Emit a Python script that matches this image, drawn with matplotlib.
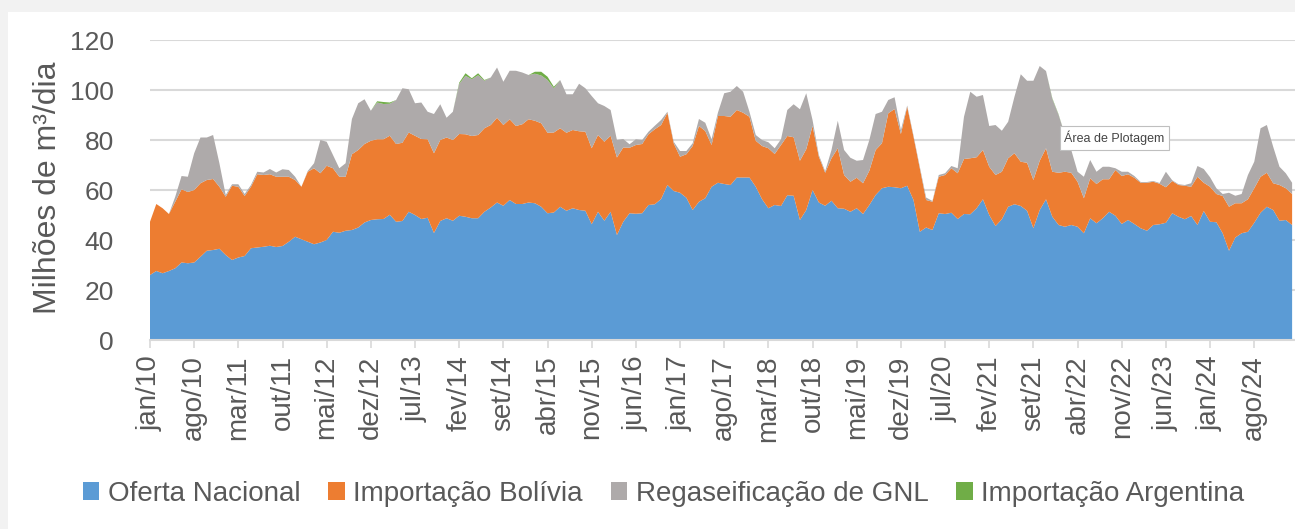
import numpy as np
import matplotlib
import matplotlib.pyplot as plt
from matplotlib.patches import Patch, Rectangle

matplotlib.use('agg')

# Monthly supply, jan/10 .. fev/25 (milhões de m3/dia)
oferta_nacional = [
    26.0, 27.6, 26.7, 27.6, 28.7, 31.0, 30.7, 31.0, 33.3, 35.7, 36.0, 36.5,
    34.0, 32.0, 33.0, 33.6, 36.7, 37.0, 37.3, 37.7, 37.2, 37.6, 39.3, 41.3,
    40.3, 39.3, 38.3, 39.0, 40.0, 43.3, 42.9, 43.7, 44.0, 45.0, 47.0, 48.0,
    48.3, 48.4, 50.1, 47.3, 47.6, 51.3, 50.0, 48.4, 48.9, 42.8, 47.6, 48.7,
    47.7, 49.7, 49.3, 48.7, 48.7, 51.3, 53.0, 55.0, 53.7, 56.0, 54.4, 54.4,
    55.0, 54.7, 53.3, 50.7, 51.0, 53.3, 51.7, 52.7, 52.0, 51.7, 46.3, 51.3,
    47.7, 51.3, 42.0, 47.3, 50.7, 50.5, 50.7, 54.0, 54.3, 56.4, 62.0, 59.6,
    58.9, 56.9, 52.0, 55.3, 56.7, 61.3, 62.9, 62.4, 62.0, 65.0, 65.0, 65.0,
    61.3, 56.3, 52.7, 54.0, 53.6, 57.9, 57.7, 48.0, 52.0, 60.0, 55.0, 53.7,
    55.7, 52.7, 52.5, 51.3, 52.7, 50.4, 54.0, 58.0, 60.7, 61.3, 61.1, 60.7,
    61.7, 56.0, 43.3, 45.0, 44.0, 50.7, 50.4, 50.9, 48.4, 50.4, 50.3, 52.7,
    56.3, 50.0, 45.6, 48.3, 53.3, 54.3, 53.6, 51.7, 44.7, 52.0, 56.3, 49.3,
    46.0, 45.3, 46.0, 45.3, 42.7, 48.7, 46.7, 48.7, 51.3, 49.7, 46.4, 48.0,
    46.4, 44.7, 43.7, 46.0, 46.3, 46.9, 50.7, 49.3, 48.3, 49.6, 46.0, 51.6,
    47.3, 47.1, 42.7, 35.7, 41.0, 42.7, 43.3, 46.9, 50.9, 53.3, 52.0, 47.7,
    48.0, 46.0,
]
importacao_bolivia = [
    21.3, 26.8, 26.0, 22.8, 26.6, 29.3, 28.5, 29.0, 29.4, 28.3, 28.4, 24.8,
    23.3, 29.7, 28.3, 24.0, 24.6, 29.3, 28.7, 28.6, 28.1, 27.7, 26.0, 22.7,
    21.0, 28.0, 30.4, 27.7, 29.7, 25.4, 22.4, 21.6, 30.3, 31.0, 31.4, 31.7,
    32.0, 31.9, 31.6, 31.1, 31.3, 31.7, 31.7, 32.0, 31.4, 31.9, 32.4, 32.3,
    32.3, 32.7, 33.0, 32.9, 33.3, 33.4, 33.0, 33.9, 32.3, 32.3, 31.2, 31.9,
    33.3, 33.0, 33.4, 32.2, 32.0, 31.4, 31.2, 31.3, 31.5, 31.6, 30.4, 30.7,
    31.6, 30.4, 31.0, 29.7, 26.2, 27.5, 27.7, 28.3, 30.0, 29.6, 28.9, 19.1,
    14.4, 17.4, 25.6, 30.3, 26.9, 16.7, 26.7, 27.2, 27.3, 27.0, 25.9, 24.3,
    18.4, 21.3, 24.0, 20.4, 24.4, 23.7, 23.4, 23.7, 24.3, 25.6, 18.3, 13.2,
    17.0, 24.0, 13.5, 12.0, 12.2, 12.3, 13.7, 18.0, 18.0, 29.4, 31.3, 21.7,
    31.6, 25.3, 25.4, 11.0, 11.3, 14.6, 15.6, 17.8, 18.3, 22.0, 22.4, 20.4,
    19.7, 19.3, 20.4, 19.0, 19.4, 20.4, 17.7, 19.2, 19.3, 19.7, 20.4, 18.0,
    20.9, 22.0, 20.9, 18.0, 14.0, 16.0, 15.7, 15.6, 13.0, 18.3, 19.2, 18.3,
    18.5, 18.2, 19.2, 17.3, 16.2, 14.2, 12.9, 12.7, 13.4, 11.7, 19.3, 11.3,
    14.0, 11.3, 14.9, 17.6, 13.7, 12.0, 13.0, 13.8, 14.4, 13.6, 10.7, 14.3,
    12.7, 12.4,
]
regaseificacao_gnl = [
    0.0, 0.0, 0.0, 0.0, 2.0, 5.3, 6.1, 14.7, 18.3, 17.0, 17.6, 9.4,
    0.7, 0.6, 1.0, 0.8, 0.7, 1.0, 1.0, 2.1, 1.7, 3.0, 2.7, 1.3,
    0.0, 0.3, 2.0, 13.3, 9.6, 5.3, 3.4, 5.4, 14.1, 18.7, 17.9, 12.0,
    14.7, 14.1, 12.8, 17.6, 21.8, 17.3, 13.0, 14.6, 11.0, 15.7, 14.3, 7.9,
    11.3, 20.0, 23.4, 22.7, 23.9, 19.0, 19.0, 20.1, 17.3, 19.4, 22.1, 20.7,
    17.7, 18.8, 19.1, 21.1, 17.7, 19.3, 15.4, 14.3, 19.0, 17.4, 20.9, 12.7,
    14.3, 10.3, 7.0, 3.4, 1.4, 2.3, 1.6, 1.0, 1.4, 2.0, 0.4, 0.6,
    2.3, 1.3, 1.1, 2.8, 3.3, 2.3, 1.3, 9.1, 10.0, 9.6, 8.4, 2.0,
    2.3, 2.4, 2.4, 2.3, 2.3, 10.4, 13.2, 20.6, 22.4, 2.4, 0.7, 0.6,
    3.3, 11.0, 10.0, 9.6, 6.8, 9.3, 12.3, 14.4, 12.6, 5.3, 4.7, 1.6,
    0.5, 0.5, 0.6, 1.0, 0.3, 0.7, 0.7, 0.9, 2.0, 16.9, 26.6, 24.2,
    22.0, 16.3, 20.0, 16.4, 14.6, 22.6, 35.0, 32.8, 39.7, 37.9, 30.9, 29.1,
    23.1, 14.7, 9.1, 4.0, 8.6, 7.3, 4.9, 5.0, 5.0, 0.7, 1.7, 1.0,
    0.7, 0.3, 0.3, 0.3, 0.3, 6.2, 0.3, 0.3, 0.3, 1.4, 4.3, 5.5,
    3.8, 2.3, 0.8, 5.6, 3.0, 3.7, 9.7, 10.6, 19.4, 19.1, 14.6, 7.3,
    6.0, 4.5,
]
importacao_argentina = [0.0] * 182
for i, v in [(36, 0.5), (37, 0.8), (38, 0.5), (49, 0.5), (50, 1.0), (51, 0.4),
             (52, 0.8), (53, 0.3), (61, 0.8), (62, 1.5), (63, 1.3), (64, 0.6),
             (143, 0.3), (144, 0.2)]:
    importacao_argentina[i] = v

series_names = ['Oferta Nacional', 'Importação Bolívia',
                'Regaseificação de GNL', 'Importação Argentina']
colors = ['#5b9bd5', '#ed7d31', '#aeaaaa', '#70ad47']

tick_labels = ['jan/10', 'ago/10', 'mar/11', 'out/11', 'mai/12', 'dez/12',
               'jul/13', 'fev/14', 'set/14', 'abr/15', 'nov/15', 'jun/16',
               'jan/17', 'ago/17', 'mar/18', 'out/18', 'mai/19', 'dez/19',
               'jul/20', 'fev/21', 'set/21', 'abr/22', 'nov/22', 'jun/23',
               'jan/24', 'ago/24']

plt.rcParams['font.family'] = ['Liberation Sans', 'DejaVu Sans']
text_color = '#595959'
grid_color = '#d9d9d9'

W, H = 1295, 529
fig = plt.figure(figsize=(W / 100, H / 100), dpi=100)
fig.patch.set_facecolor('#f2f2f2')
# White chart panel
fig.add_artist(Rectangle((8 / W, 0), 1, (H - 12) / H, transform=fig.transFigure,
                         facecolor='white', edgecolor='none', zorder=0))

ax = fig.add_axes([150 / W, 189 / H, 1145 / W, 300 / H])
x = np.arange(len(oferta_nacional))
ax.stackplot(x, oferta_nacional, importacao_bolivia, regaseificacao_gnl,
             importacao_argentina, colors=colors, linewidth=0)

# Style axes
ax.set_xlim(0, 1145 / 6.31)
ax.set_ylim(0, 120)
ax.set_yticks(range(0, 121, 20))
ax.set_xticks(np.arange(0, len(tick_labels) * 7, 7))
ax.set_xticklabels(tick_labels, rotation=90)
ax.tick_params(axis='y', length=0, pad=26, labelsize=19, labelcolor=text_color)
ax.tick_params(axis='x', length=6, width=1.2, color=grid_color, pad=5,
               labelsize=20, labelcolor=text_color)
ax.grid(axis='y', color=grid_color, linewidth=1.5)
ax.set_axisbelow(True)
for side in ['top', 'right', 'left']:
    ax.spines[side].set_visible(False)
ax.spines['bottom'].set_color(grid_color)
ax.spines['bottom'].set_linewidth(1.5)
ax.spines['bottom'].set_zorder(5)

fig.text(48 / W, 1 - 188 / H, 'Milhões de m³/dia', rotation=90, fontsize=23,
         color=text_color, ha='center', va='center')

# Tooltip left over from the spreadsheet
fig.text(1064 / W, 1 - 138 / H, 'Área de Plotagem', fontsize=9, color='#444444',
         ha='left', va='center',
         bbox=dict(boxstyle='square,pad=0.35', facecolor='white',
                   edgecolor='#bfbfbf', linewidth=0.8))

# Legend
handles = [Patch(facecolor=c, edgecolor='none') for c in colors]
fig.legend(handles, series_names, loc='center',
           bbox_to_anchor=(0.5 + 16 / W, 1 - 494 / H),
           ncol=4, frameon=False, fontsize=20, labelcolor=text_color,
           handlelength=0.6, handleheight=0.6, handletextpad=0.3,
           columnspacing=1.0)

fig.savefig('out.png', dpi=100, facecolor=fig.get_facecolor())
